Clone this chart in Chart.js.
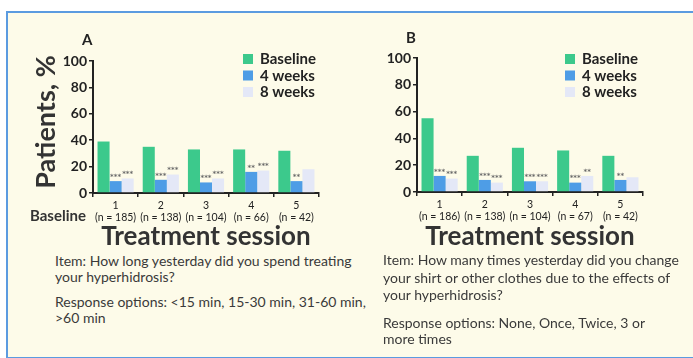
<!DOCTYPE html>
<html>
<head>
<meta charset="utf-8">
<script src="https://cdn.jsdelivr.net/npm/chart.js@4.4.1/dist/chart.umd.min.js"></script>
<style>
  html, body { margin: 0; padding: 0; background: #ffffff; overflow: hidden; }
  #page { position: relative; width: 693px; height: 358px; overflow: hidden; background: #ffffff; font-family: Lato, "Open Sans", sans-serif; }
  #panel { position: absolute; left: 6px; top: 11px; width: 760px; height: 344px; background: #fdfbe9;
           border-top: 2px solid #5b9be0; border-left: 2px solid #5b9be0; border-bottom: 2px solid #5b9be0; }
  canvas { position: absolute; top: 0; }
  .txt { position: absolute; white-space: nowrap; color: #333; }
  .tag { font-weight: bold; font-size: 15px; color: #222; }
  .item { font-size: 14px; line-height: 16px; color: #3a3a3a; }
  #ytitle { position: absolute; left: 45px; top: 122px; font-size: 27px; font-weight: bold; color: #333;
            transform: translate(-50%, -50%) rotate(-90deg); line-height: 30px; }
</style>
</head>
<body>
<div id="page">
  <div id="panel"></div>
  <canvas id="chartA" width="345" height="252" style="left:0px;width:345px;height:252px"></canvas>
  <canvas id="chartB" width="348" height="252" style="left:345px;width:348px;height:252px"></canvas>

  <div id="ytitle" class="txt">Patients, %</div>
  <div class="txt tag" style="left:82px;top:30px;">A</div>
  <div class="txt tag" style="left:406px;top:28px;">B</div>
  <div class="txt" style="left:30px;top:206px;font-size:15px;font-weight:bold;color:#333;">Baseline</div>

  <div class="txt item" style="left:55px;top:253px;">Item: How long yesterday did you spend treating<br>your hyperhidrosis?</div>
  <div class="txt item" style="left:55px;top:294px;">Response options: &lt;15 min, 15-30 min, 31-60 min,<br>&gt;60 min</div>

  <div class="txt item" style="left:383px;top:251px;line-height:17.5px;">Item: How many times yesterday did you change<br>your shirt or other clothes due to the effects of<br>your hyperhidrosis?</div>
  <div class="txt item" style="left:383px;top:315px;">Response options: None, Once, Twice, 3 or<br>more times</div>
</div>

<script>
// Treatment sessions and patient counts at baseline
const sessions = ['1', '2', '3', '4', '5'];
const countsA = ['(n = 185)', '(n = 138)', '(n = 104)', '(n = 66)', '(n = 42)'];
const countsB = ['(n = 186)', '(n = 138)', '(n = 104)', '(n = 67)', '(n = 42)'];

// Panel A: time spent treating hyperhidrosis (% of patients)
const baselineA = [39, 35, 33, 33, 32];
const week4A = [9, 10, 8, 16, 9];
const week8A = [11, 14, 11, 17, 18];
const sig4A = ['***', '***', '***', '**', '**'];
const sig8A = ['***', '***', '***', '***', ''];

// Panel B: clothes changes due to hyperhidrosis (% of patients)
const baselineB = [55, 27, 33, 31, 27];
const week4B = [12, 9, 8, 7, 9];
const week8B = [10, 7, 8, 12, 11];
const sig4B = ['***', '***', '***', '***', '**'];
const sig8B = ['***', '***', '***', '**', ''];

const seriesNames = ['Baseline', '4 weeks', '8 weeks'];
const yTicks = [0, 20, 40, 60, 80, 100];

const colors = ['#3cc98c', '#4e9de6', '#e4e8f7'];
const ink = '#222222';
const face = 'Lato, "Open Sans", sans-serif';

// Legend drawn as stacked coloured squares with bold labels
const boxLegend = {
  id: 'boxLegend',
  afterDraw(chart, args, opts) {
    const ctx = chart.ctx;
    ctx.save();
    ctx.font = 'bold 15px ' + face;
    ctx.textBaseline = 'middle';
    chart.data.datasets.forEach((ds, i) => {
      const cy = opts.y + i * opts.step;
      ctx.fillStyle = ds.backgroundColor;
      ctx.fillRect(opts.x, cy - 5, 10, 10);
      ctx.fillStyle = ink;
      ctx.fillText(ds.label, opts.x + 17, cy + 0.5);
    });
    ctx.restore();
  }
};

// Significance markers above the follow-up bars
const sigMarks = {
  id: 'sigMarks',
  afterDatasetsDraw(chart, args, opts) {
    const ctx = chart.ctx;
    ctx.save();
    ctx.font = 'bold 7px "DejaVu Sans", sans-serif';
    ctx.textAlign = 'center';
    ctx.textBaseline = 'bottom';
    ctx.fillStyle = '#6a6a6a';
    opts.marks.forEach((list, k) => {
      const meta = chart.getDatasetMeta(k + 1);
      meta.data.forEach((bar, j) => {
        if (list[j]) ctx.fillText(list[j], bar.x, bar.y - 0.5);
      });
    });
    ctx.restore();
  }
};

function makeChart(id, cfg) {
  const labels = sessions.map((s, i) => [s, cfg.counts[i]]);
  return new Chart(document.getElementById(id), {
    type: 'bar',
    data: {
      labels: labels,
      datasets: cfg.values.map((vals, i) => ({
        label: seriesNames[i],
        data: vals,
        backgroundColor: colors[i],
        borderWidth: 0,
        categoryPercentage: 0.8,
        barPercentage: 1.0
      }))
    },
    options: {
      responsive: false,
      animation: false,
      layout: { padding: cfg.padding },
      plugins: {
        legend: { display: false },
        tooltip: { enabled: false },
        boxLegend: cfg.legend,
        sigMarks: { marks: cfg.marks }
      },
      scales: {
        x: {
          grid: { display: true, drawOnChartArea: false, drawTicks: true, tickLength: 4, color: ink, lineWidth: 1.5 },
          border: { display: true, color: ink, width: 2 },
          ticks: {
            color: ink, padding: 2, autoSkip: false, maxRotation: 0, minRotation: 0,
            font: { family: face, size: 10.5, lineHeight: 1.2 }
          },
          title: {
            display: true, text: 'Treatment session', color: '#333',
            font: { family: face, size: 26, weight: 'bold', lineHeight: 1.15 },
            padding: { top: 0, bottom: 0 }
          },
          afterFit(scale) { scale.height = cfg.xHeight; }
        },
        y: {
          min: 0, max: 100,
          afterBuildTicks(scale) { scale.ticks = yTicks.map(v => ({ value: v })); },
          grid: { display: true, drawOnChartArea: false, drawTicks: true, tickLength: 4, color: ink, lineWidth: 1.5 },
          border: { display: true, color: ink, width: 2 },
          ticks: {
            color: ink, padding: 2,
            font: { family: face, size: 14, weight: 'bold' }
          },
          afterFit(scale) { scale.width = cfg.yWidth; }
        }
      }
    },
    plugins: [boxLegend, sigMarks]
  });
}

makeChart('chartA', {
  counts: countsA,
  values: [baselineA, week4A, week8A],
  marks: [sig4A, sig8A],
  padding: { top: 61, left: 29, right: 26, bottom: 0 },
  xHeight: 59,
  yWidth: 64,
  legend: { x: 243, y: 59, step: 16.5 }
});

makeChart('chartB', {
  counts: countsB,
  values: [baselineB, week4B, week8B],
  marks: [sig4B, sig8B],
  padding: { top: 58, left: 40, right: 50, bottom: 0 },
  xHeight: 60,
  yWidth: 32,
  legend: { x: 220, y: 59, step: 16.5 }
});
</script>
</body>
</html>
